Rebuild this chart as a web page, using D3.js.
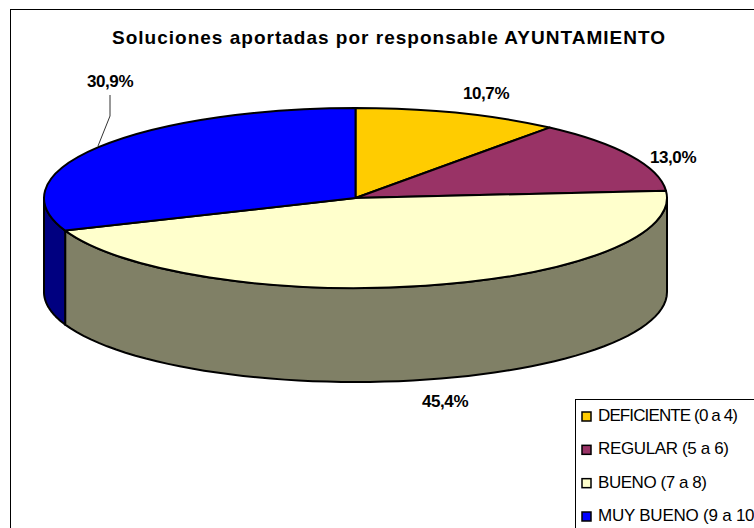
<!DOCTYPE html>
<html><head><meta charset="utf-8">
<script src="https://cdnjs.cloudflare.com/ajax/libs/d3/7.8.5/d3.min.js"></script>
<style>html,body{margin:0;padding:0;background:#fff}svg{display:block}text{font-family:"Liberation Sans",Arial,sans-serif;fill:#000}</style>
</head><body><div id="c"></div>
<script>
const categories=["DEFICIENTE (0 a 4)","REGULAR (5 a 6)","BUENO (7 a 8)","MUY BUENO (9 a 10)"];
const values=[10.7,13.0,45.4,30.9];
const valueLabels=["10,7%","13,0%","45,4%","30,9%"];
const topColors=["#FFCC00","#993366","#FFFFCC","#0000FF"];
const wallColors=["#806600","#4D1A33","#808066","#000080"];
const legendTextWidths=[140,131,109,162];
const title="Soluciones aportadas por responsable AYUNTAMIENTO";
const W=754,H=528,cx=355.5,cy=198,rx=311.5,ry=90,depth=94;
const svg=d3.select("#c").append("svg").attr("width",W).attr("height",H);
svg.append("rect").attr("x",10.5).attr("y",9.5).attr("width",W+20).attr("height",H+20).attr("fill","#fff").attr("stroke","#000").attr("stroke-width",1);
svg.append("text").attr("x",388.5).attr("y",44).attr("text-anchor","middle").attr("font-weight","bold").attr("font-size",19).attr("textLength",553).text(title);
const pie=d3.pie().sort(null).value(d=>d)(values);
const px=a=>cx+rx*Math.sin(a),py=a=>cy-ry*Math.cos(a);
const line=d3.line();
const P=Math.PI;
pie.forEach((s,i)=>{
  const a0=Math.max(s.startAngle,P/2),a1=Math.min(s.endAngle,3*P/2);
  if(a1<=a0)return;
  const as=d3.range(0,61).map(k=>a0+(a1-a0)*k/60);
  const pts=[...as.map(a=>[px(a),py(a)]),...as.slice().reverse().map(a=>[px(a),py(a)+depth])];
  svg.append("path").attr("d",line(pts)+"Z").attr("fill",wallColors[i]).attr("stroke","#000").attr("stroke-width",2).attr("stroke-linejoin","round");
});
const arc=d3.arc().innerRadius(0).outerRadius(rx);
svg.append("g").attr("transform",`translate(${cx},${cy}) scale(1,${ry/rx})`)
 .selectAll("path").data(pie).join("path").attr("d",arc)
 .attr("fill",(d,i)=>topColors[i]).attr("stroke","#000").attr("stroke-width",2).attr("vector-effect","non-scaling-stroke").attr("stroke-linejoin","round");
const labelPos=[[486,99],[673,163],[445,407],[110,87]];
valueLabels.forEach((t,i)=>svg.append("text").attr("x",labelPos[i][0]).attr("y",labelPos[i][1]).attr("text-anchor","middle").attr("font-weight","bold").attr("font-size",17).attr("letter-spacing",-0.4).text(t));
svg.append("path").attr("d",line([[110,95],[110,116],[98,146]])).attr("fill","none").attr("stroke","#333").attr("stroke-width",1);
const lg=svg.append("g");
lg.append("rect").attr("x",575.5).attr("y",399.5).attr("width",W).attr("height",H).attr("fill","#fff").attr("stroke","#000").attr("stroke-width",1);
const ly=d3.scalePoint().domain(categories).range([416,516]);
categories.forEach((c,i)=>{
  lg.append("rect").attr("x",582).attr("y",ly(c)-4).attr("width",9).attr("height",9).attr("fill",topColors[i]).attr("stroke","#000").attr("stroke-width",1.5);
  lg.append("text").attr("x",598).attr("y",ly(c)+5).attr("font-size",17).attr("textLength",legendTextWidths[i]).text(c);
});
</script></body></html>
